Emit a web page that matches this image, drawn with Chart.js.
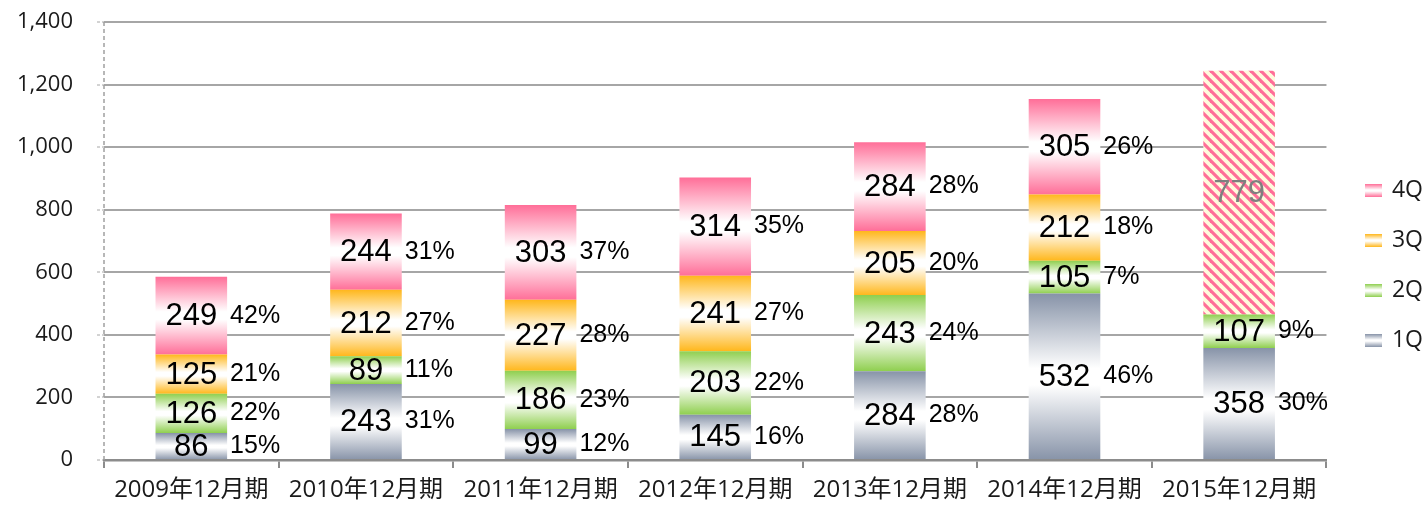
<!DOCTYPE html>
<html>
<head>
<meta charset="utf-8">
<script src="https://cdn.jsdelivr.net/npm/chart.js@4.4.0/dist/chart.umd.min.js"></script>
<style>
  html, body { margin: 0; padding: 0; background: #fff; }
  #wrap { width: 1425px; height: 505px; }
</style>
</head>
<body>
<div id="wrap"><canvas id="salesChart" width="1425" height="505"></canvas></div>
<script>
// datos del gráfico
const periods = ['2009年12月期', '2010年12月期', '2011年12月期', '2012年12月期', '2013年12月期', '2014年12月期', '2015年12月期'];
const q1 = [86, 243, 99, 145, 284, 532, 358];
const q2 = [126, 89, 186, 203, 243, 105, 107];
const q3 = [125, 212, 227, 241, 205, 212, null];
const q4 = [249, 244, 303, 314, 284, 305, 779];
const pct1 = ['15%', '31%', '12%', '16%', '28%', '46%', '30%'];
const pct2 = ['22%', '11%', '23%', '22%', '24%', '7%', '9%'];
const pct3 = ['21%', '27%', '28%', '27%', '20%', '18%', ''];
const pct4 = ['42%', '31%', '37%', '35%', '28%', '26%', ''];
const forecast = [false, false, false, false, false, false, true]; // 2015 es previsión
const yTicks = [0, 200, 400, 600, 800, 1000, 1200, 1400];

const seriesNames = ['1Q', '2Q', '3Q', '4Q'];
const seriesColors = ['#8793a8', '#8fcf4f', '#ffb71c', '#ff6e98'];
const seriesValues = [q1, q2, q3, q4];
const seriesPct = [pct1, pct2, pct3, pct4];

// patrón rayado para la previsión
function makeStripes() {
    const c = document.createElement('canvas');
    c.width = 10; c.height = 10;
    const g = c.getContext('2d');
    g.fillStyle = '#fffbdc';
    g.fillRect(0, 0, 10, 10);
    g.strokeStyle = '#ff6e98';
    g.lineWidth = 3.2;
    [-10, 0, 10].forEach(o => {
        g.beginPath();
        g.moveTo(o - 2, -2);
        g.lineTo(o + 12, 12);
        g.stroke();
    });
    return c;
}
const stripeCanvas = makeStripes();

function makeSwatch(color) {
    const c = document.createElement('canvas');
    c.width = 17; c.height = 13;
    const g = c.getContext('2d');
    const gr = g.createLinearGradient(0, 0, 0, 13);
    gr.addColorStop(0, color);
    gr.addColorStop(0.45, '#ffffff');
    gr.addColorStop(0.55, '#ffffff');
    gr.addColorStop(1, color);
    g.fillStyle = gr;
    g.fillRect(0, 0, 17, 13);
    return c;
}

function segmentFill(ctx, color) {
    const chart = ctx.chart;
    const area = chart.chartArea;
    if (!area) return color;
    const i = ctx.dataIndex, d = ctx.datasetIndex;
    if (d === 3 && forecast[i]) {
        return chart.ctx.createPattern(stripeCanvas, 'repeat');
    }
    let base = 0;
    for (let k = 0; k < d; k++) base += seriesValues[k][i] || 0;
    const v = seriesValues[d][i] || 0;
    const yScale = chart.scales.y;
    const yTop = yScale.getPixelForValue(base + v);
    const yBot = yScale.getPixelForValue(base);
    if (yBot - yTop < 1) return color;
    const gr = chart.ctx.createLinearGradient(0, yTop, 0, yBot);
    gr.addColorStop(0, color);
    gr.addColorStop(0.45, '#ffffff');
    gr.addColorStop(0.55, '#ffffff');
    gr.addColorStop(1, color);
    return gr;
}

// eje Y discontinuo (border.dash afectaría también a la cuadrícula)
const dashedAxis = {
    id: 'dashedAxis',
    afterLayout(chart) {
        // empujar la leyenda un poco hacia la derecha
        chart.legend.left += 14;
        chart.legend.right += 14;
    },
    beforeDatasetsDraw(chart) {
        const { ctx, chartArea } = chart;
        ctx.save();
        ctx.strokeStyle = '#a0a0a0';
        ctx.lineWidth = 1.5;
        ctx.setLineDash([4, 3]);
        ctx.beginPath();
        ctx.moveTo(chartArea.left, chartArea.top);
        ctx.lineTo(chartArea.left, chartArea.bottom);
        ctx.stroke();
        ctx.restore();
    }
};

// etiquetas de valores y porcentajes
const labelPlugin = {
    id: 'barLabels',
    afterDatasetsDraw(chart) {
        const ctx = chart.ctx;
        ctx.save();
        chart.data.datasets.forEach((ds, d) => {
            const meta = chart.getDatasetMeta(d);
            meta.data.forEach((el, i) => {
                const v = seriesValues[d][i];
                if (v == null) return;
                const yMid = (el.y + el.base) / 2;
                const isForecast = d === 3 && forecast[i];
                ctx.textBaseline = 'middle';
                ctx.textAlign = 'center';
                ctx.font = '31px "Liberation Sans", Arial, sans-serif';
                ctx.fillStyle = isForecast ? '#7f7f7f' : '#000000';
                ctx.fillText(String(v), el.x, yMid + 1);
                const p = seriesPct[d][i];
                if (p) {
                    ctx.textAlign = 'left';
                    ctx.font = '25px "Liberation Sans", Arial, sans-serif';
                    ctx.fillStyle = '#000000';
                    ctx.fillText(p, el.x + el.width / 2 + 3, yMid);
                }
            });
        });
        ctx.restore();
    }
};

const datasets = seriesNames.map((name, d) => ({
    label: name,
    data: seriesValues[d],
    backgroundColor: ctx => segmentFill(ctx, seriesColors[d]),
    borderWidth: 0,
    barPercentage: 0.41,
    categoryPercentage: 1.0
}));

Chart.defaults.font.family = "'Open Sans', 'Noto Sans CJK JP', sans-serif";
Chart.defaults.color = '#1a1a1a';

new Chart(document.getElementById('salesChart'), {
    type: 'bar',
    data: { labels: periods, datasets: datasets },
    options: {
        responsive: false,
        animation: false,
        layout: { padding: { top: 0, right: 6, left: 8, bottom: 4 } },
        plugins: {
            legend: {
                position: 'right',
                reverse: true,
                title: { display: true, text: ' ', font: { size: 10 }, padding: { top: 9, bottom: 9 } },
                labels: {
                    usePointStyle: true,
                    pointStyleWidth: 13,
                    padding: 27,
                    font: { size: 23 },
                    color: '#1a1a1a',
                    generateLabels: chart => chart.data.datasets.map((ds, d) => ({
                        text: ds.label,
                        pointStyle: makeSwatch(seriesColors[d]),
                        datasetIndex: d,
                        fillStyle: seriesColors[d],
                        strokeStyle: seriesColors[d],
                        lineWidth: 0,
                        hidden: false
                    }))
                }
            },
            tooltip: { enabled: false }
        },
        scales: {
            x: {
                stacked: true,
                offset: true,
                grid: {
                    offset: true,
                    drawOnChartArea: false,
                    drawTicks: true,
                    tickLength: 8,
                    color: '#8c8c8c',
                    lineWidth: 2
                },
                border: { color: '#8c8c8c', width: 2.5 },
                ticks: { font: { size: 24 }, color: '#1a1a1a', padding: 8, maxRotation: 0 },
                afterFit: scale => { scale.height = 41; }
            },
            y: {
                stacked: true,
                min: 0,
                max: 1400,
                afterBuildTicks: scale => { scale.ticks = yTicks.map(v => ({ value: v })); },
                grid: {
                    color: '#a6a6a6',
                    lineWidth: 2,
                    tickLength: 7,
                    tickColor: '#a6a6a6',
                    tickBorderDash: [3, 2],
                    tickWidth: 1
                },
                border: { display: false },
                ticks: {
                    font: { size: 22 },
                    color: '#1a1a1a',
                    padding: 24,
                    callback: v => v.toLocaleString('en-US')
                },
                afterFit: scale => {
                    scale.width = 96;
                    scale.paddingTop = 22;
                    scale.paddingBottom = 13;
                }
            }
        }
    },
    plugins: [dashedAxis, labelPlugin]
});
</script>
</body>
</html>
